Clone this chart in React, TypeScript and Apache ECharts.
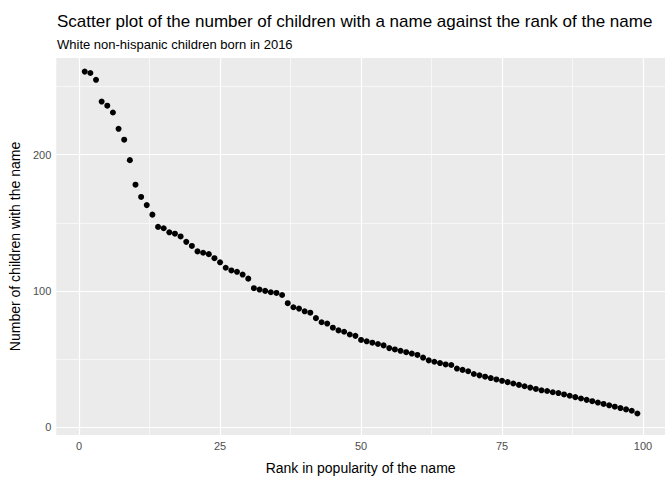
import React, { useEffect, useRef } from "react";
import * as echarts from "echarts";

const counts = [261, 260, 255, 239, 236, 231, 219, 211, 196, 178, 169, 163, 156, 147, 146, 143, 142, 140, 136, 133,
  129, 128, 127, 124, 121, 117, 115, 114, 112, 109, 102, 101, 100, 99, 98.5, 97, 91, 88, 87, 85,
  84, 80, 77, 76, 73, 71, 70, 68, 67, 64, 63, 62, 61, 60, 58, 57, 56, 55, 54, 53,
  51, 49, 48, 47, 46, 45.6, 43, 42, 41, 39, 38, 37, 36, 35, 34, 33, 32, 31, 30, 29,
  28, 27, 26.5, 25.6, 25, 24, 23, 22, 21, 20, 19, 18, 17, 16, 15, 14, 13, 12, 10];
const xTicks = [0, 25, 50, 75, 100];
const yTicks = [0, 100, 200];
const xMinor = [12.5, 37.5, 62.5, 87.5];
const yMinor = [50, 150, 250];

export default function App() {
  const ref = useRef<HTMLDivElement>(null);
  useEffect(() => {
    document.body.style.margin = "0";
    const chart = echarts.init(ref.current!, null, { renderer: "svg" });
    const data = counts.map((v, i) => [i + 1, v]);
    const gl = (vals: number[], axis: string, w: number) =>
      vals.map((v) => ({ [axis]: v, lineStyle: { color: "#FFFFFF", width: w, type: "solid" } }));
    chart.setOption({
      animation: false,
      textStyle: { fontFamily: "Liberation Sans, Arial, sans-serif" },
      title: {
        text: "Scatter plot of the number of children with a name against the rank of the name",
        subtext: "White non-hispanic children born in 2016",
        left: 52, top: 8, itemGap: 8,
        textStyle: { fontSize: 17, fontWeight: "normal", color: "#000" },
        subtextStyle: { fontSize: 13, color: "#000" },
      },
      grid: { left: 52, right: 7, top: 58, bottom: 40, show: true, backgroundColor: "#EBEBEB", borderWidth: 0 },
      xAxis: {
        type: "value", min: -4.05, max: 103.9,
        name: "Rank in popularity of the name", nameLocation: "middle", nameGap: 26,
        nameTextStyle: { fontSize: 14, color: "#000" },
        axisLine: { show: false },
        axisTick: { show: true, length: 3, lineStyle: { color: "#333" }, customValues: xTicks },
        axisLabel: { fontSize: 11, color: "#4D4D4D", margin: 5, customValues: xTicks },
        splitLine: { show: false },
      },
      yAxis: {
        type: "value", min: -5.8, max: 271,
        name: "Number of children with the name", nameLocation: "middle", nameGap: 30,
        nameTextStyle: { fontSize: 14, color: "#000" },
        axisLine: { show: false },
        axisTick: { show: true, length: 3, lineStyle: { color: "#333" }, customValues: yTicks },
        axisLabel: { fontSize: 11, color: "#4D4D4D", margin: 5, customValues: yTicks },
        splitLine: { show: false },
      },
      series: [
        {
          type: "scatter", data, symbolSize: 6, itemStyle: { color: "#000", opacity: 1 }, z: 5,
          markLine: {
            silent: true, symbol: "none", label: { show: false }, animation: false,
            data: [
              ...gl(xMinor, "xAxis", 0.6), ...gl(yMinor, "yAxis", 0.6),
              ...gl(xTicks, "xAxis", 1.2), ...gl(yTicks, "yAxis", 1.2),
            ],
          },
        },
      ],
    });
    return () => chart.dispose();
  }, []);
  return <div ref={ref} style={{ width: 672, height: 480 }} />;
}
